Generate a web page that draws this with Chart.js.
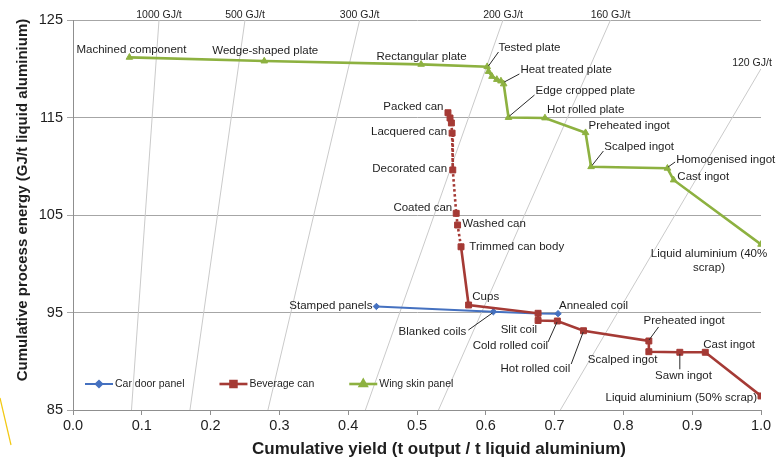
<!DOCTYPE html>
<html>
<head>
<meta charset="utf-8">
<script src="https://cdn.jsdelivr.net/npm/chart.js@4.4.0/dist/chart.umd.min.js"></script>
<style>
  html, body { margin: 0; padding: 0; background: #fff; }
  canvas { display: block; }
</style>
</head>
<body>
<canvas id="chart" width="776" height="459"></canvas>
<script>
// ---- Data: cumulative yield (t output / t liquid aluminium) and cumulative process energy (GJ/t liquid aluminium) ----
const carDoorStages = ['Stamped panels', 'Blanked coils', '', 'Annealed coil'];
const carDoorYield  = [0.441, 0.611, 0.676, 0.705];
const carDoorEnergy = [95.62, 95.08, 94.90, 94.88];

const canStages = ['Packed can', '', '', 'Lacquered can', 'Decorated can', 'Coated can', 'Washed can',
  'Trimmed can body', 'Cups', '', 'Slit coil', 'Cold rolled coil', 'Hot rolled coil', 'Preheated ingot',
  'Scalped ingot', 'Sawn ingot', 'Cast ingot', 'Liquid aluminium (50% scrap)'];
const canYield  = [0.545, 0.548, 0.550, 0.551, 0.552, 0.557, 0.559, 0.564, 0.575, 0.676, 0.676, 0.704,
  0.742, 0.837, 0.837, 0.882, 0.919, 1.000];
const canEnergy = [115.49, 114.95, 114.44, 113.40, 109.62, 105.17, 103.97, 101.74, 95.77, 94.92, 94.18,
  94.13, 93.13, 92.08, 90.98, 90.92, 90.92, 86.44];

const wingStages = ['Machined component', 'Wedge-shaped plate', 'Rectangular plate', 'Tested plate', '', '', '', '',
  'Heat treated plate', 'Edge cropped plate', 'Hot rolled plate', 'Preheated ingot', 'Scalped ingot',
  'Homogenised ingot', 'Cast ingot', 'Liquid aluminium (40% scrap)'];
const wingYield  = [0.082, 0.278, 0.506, 0.602, 0.604, 0.609, 0.616, 0.622, 0.626, 0.633, 0.686, 0.745,
  0.753, 0.864, 0.873, 1.000];
const wingEnergy = [121.17, 120.79, 120.45, 120.21, 119.72, 119.21, 118.90, 118.74, 118.44, 115.00, 114.95,
  113.44, 109.95, 109.79, 108.59, 101.99];

// Lines of constant energy per tonne of product (GJ/t)
const isoEnergy = [1000, 500, 300, 200, 160, 120];

// Axis ticks and titles
const yieldTicks  = [0, 0.1, 0.2, 0.3, 0.4, 0.5, 0.6, 0.7, 0.8, 0.9, 1.0];
const energyTicks = [85, 95, 105, 115, 125];
const xTitle = 'Cumulative yield (t output / t liquid aluminium)';
const yTitle = 'Cumulative process energy (GJ/t liquid aluminium)';

// ---- Styling ----
const FONT = "'Liberation Sans', Arial, Helvetica, sans-serif";
const TEXT = '#1e1e1e';
const BLUE = '#4571c0', RED = '#a53a35', GREEN = '#8db140';

const series = {
  car:  { label: 'Car door panel',  names: carDoorStages, xs: carDoorYield, ys: carDoorEnergy, color: BLUE,  style: 'rectRot',  r: 3.2, w: 2,   order: 3 },
  can:  { label: 'Beverage can',    names: canStages,     xs: canYield,     ys: canEnergy,     color: RED,   style: 'rect',     r: 4.2, w: 2.6, order: 2 },
  wing: { label: 'Wing skin panel', names: wingStages,    xs: wingYield,    ys: wingEnergy,    color: GREEN, style: 'triangle', r: 3.8, w: 2.6, order: 1 }
};

// Label placement: text offset from the point (px), alignment, optional leader line [x1,y1,x2,y2] relative to the point
const labelLayout = [
  { s: 'wing', i: 0,  dx: 2,     dy: -8,    align: 'center' },
  { s: 'wing', i: 1,  dx: 1,     dy: -10,   align: 'center' },
  { s: 'wing', i: 2,  dx: 0.5,   dy: -7.6,  align: 'center' },
  { s: 'wing', i: 3,  dx: 11.3,  dy: -19,   align: 'left', leader: [11.3, -14.7, 1.3, -0.7] },
  { s: 'wing', i: 8,  dx: 16.7,  dy: -14,   align: 'left', leader: [15.7, -10, 0.7, -2] },
  { s: 'wing', i: 9,  dx: 27,    dy: -26.8, align: 'left', leader: [26, -22.5, 1, -1.5] },
  { s: 'wing', i: 10, dx: 2,     dy: -8,    align: 'left' },
  { s: 'wing', i: 11, dx: 3,     dy: -6.7,  align: 'left' },
  { s: 'wing', i: 12, dx: 13.3,  dy: -20,   align: 'left', leader: [12.3, -15.7, 1.3, -1.7] },
  { s: 'wing', i: 13, dx: 8.7,   dy: -8.3,  align: 'left', leader: [7.7, -6.3, 0.7, -1.3] },
  { s: 'wing', i: 14, dx: 3.7,   dy: -3,    align: 'left' },
  { s: 'wing', i: 15, dx: -52,   dy: 9.7,   align: 'center', lines: ['Liquid aluminium (40%', 'scrap)'] },

  { s: 'can', i: 0,  dx: -4.5,  dy: -5.4,  align: 'right' },
  { s: 'can', i: 3,  dx: -5,    dy: -1,    align: 'right' },
  { s: 'can', i: 4,  dx: -5.7,  dy: -0.7,  align: 'right' },
  { s: 'can', i: 5,  dx: -4,    dy: -5.6,  align: 'right' },
  { s: 'can', i: 6,  dx: 4.7,   dy: -1.7,  align: 'left' },
  { s: 'can', i: 7,  dx: 8.3,   dy: 0,     align: 'left' },
  { s: 'can', i: 8,  dx: 3.7,   dy: -8.3,  align: 'left' },
  { s: 'can', i: 10, dx: -1,    dy: 9.5,   align: 'right' },
  { s: 'can', i: 11, dx: -9.3,  dy: 25,    align: 'right', leader: [-9.3, 21, -0.3, 1] },
  { s: 'can', i: 12, dx: -13.3, dy: 37.6,  align: 'right', leader: [-12.3, 33.3, -0.3, 1.3] },
  { s: 'can', i: 13, dx: -5.3,  dy: -20.3, align: 'left',  leader: [9.7, -14, 0.2, -1] },
  { s: 'can', i: 14, dx: 8.7,   dy: 8.3,   align: 'right' },
  { s: 'can', i: 15, dx: 3.7,   dy: 23.4,  align: 'center', leader: [0, 17, 0, 1.7] },
  { s: 'can', i: 16, dx: -2,    dy: -7.3,  align: 'left' },
  { s: 'can', i: 17, dx: -4,    dy: 2.3,   align: 'right' },

  { s: 'car', i: 0, dx: -4,  dy: -0.5, align: 'right' },
  { s: 'car', i: 1, dx: -27, dy: 20,   align: 'right', leader: [-25, 18.3, -1, 1.3] },
  { s: 'car', i: 3, dx: 1,   dy: -7.5, align: 'left' }
];

// Placement of the GJ/t captions relative to the upper end of each iso-energy line
const isoLabelShift = { 120: [-9, -6] };

// ---- Datasets ----
const isoSets = isoEnergy.map(c => ({
  label: c + ' GJ/t',
  data: [{ x: 85 / c, y: 85 }, { x: Math.min(1, 125 / c), y: Math.min(125, c) }],
  showLine: true, borderColor: '#cacaca', borderWidth: 1, pointRadius: 0, order: 10, iso: c
}));

const seriesSets = Object.keys(series).map(key => {
  const s = series[key];
  const set = {
    label: s.label, key,
    data: s.xs.map((x, i) => ({ x, y: s.ys[i] })),
    showLine: true,
    borderColor: s.color, backgroundColor: s.color,
    borderWidth: s.w, pointStyle: s.style, pointRadius: s.r,
    pointBorderColor: s.color, pointBackgroundColor: s.color, pointBorderWidth: 1,
    order: s.order
  };
  if (key === 'can') {
    // process steps on the finished can are drawn dotted
    set.segment = { borderDash: ctx => (ctx.p0DataIndex >= 2 && ctx.p1DataIndex <= 7) ? [2.5, 2.5] : undefined };
  }
  return set;
});

// ---- Plugins ----
const annotations = {
  id: 'annotations',
  afterDatasetsDraw(chart) {
    const { ctx, scales: { x: xs, y: ys } } = chart;
    ctx.save();
    ctx.fillStyle = TEXT;
    ctx.textBaseline = 'middle';

    // GJ/t captions
    ctx.font = '10.5px ' + FONT;
    ctx.textAlign = 'center';
    chart.data.datasets.forEach(ds => {
      if (!ds.iso) return;
      const top = ds.data[1];
      const sh = isoLabelShift[ds.iso] || [0, -4.5];
      ctx.fillText(ds.iso + ' GJ/t', xs.getPixelForValue(top.x) + sh[0], ys.getPixelForValue(top.y) + sh[1]);
    });

    // stage labels and leader lines
    ctx.font = '11.5px ' + FONT;
    labelLayout.forEach(l => {
      const s = series[l.s];
      const px = xs.getPixelForValue(s.xs[l.i]);
      const py = ys.getPixelForValue(s.ys[l.i]);
      if (l.leader) {
        ctx.beginPath();
        ctx.strokeStyle = '#2a2a2a';
        ctx.lineWidth = 1;
        ctx.moveTo(px + l.leader[0], py + l.leader[1]);
        ctx.lineTo(px + l.leader[2], py + l.leader[3]);
        ctx.stroke();
      }
      ctx.textAlign = l.align;
      const lines = l.lines || [s.names[l.i]];
      lines.forEach((t, k) => ctx.fillText(t, px + l.dx, py + l.dy + k * 14));
    });
    ctx.restore();
  },
  afterDraw(chart) {
    const { ctx, chartArea } = chart;
    ctx.save();
    ctx.textBaseline = 'middle';
    ctx.textAlign = 'center';
    ctx.fillStyle = TEXT;

    // axis titles
    ctx.font = 'bold 17px ' + FONT;
    ctx.fillText(xTitle, chartArea.left + 366, chartArea.bottom + 39);
    ctx.save();
    ctx.translate(22.5, chartArea.top + 180);
    ctx.rotate(-Math.PI / 2);
    ctx.font = 'bold 15px ' + FONT;
    ctx.fillText(yTitle, 0, 0);
    ctx.restore();

    // legend inside the plot area
    ctx.font = '10.5px ' + FONT;
    ctx.textAlign = 'left';
    let x = chartArea.left + 12;
    const y = chartArea.bottom - 26;
    ['car', 'can', 'wing'].forEach(key => {
      const s = series[key];
      ctx.strokeStyle = s.color;
      ctx.lineWidth = s.w;
      ctx.beginPath();
      ctx.moveTo(x, y);
      ctx.lineTo(x + 28, y);
      ctx.stroke();
      ctx.fillStyle = s.color;
      Chart.helpers.drawPoint(ctx, { pointStyle: s.style, radius: s.r, borderWidth: 1 }, x + 14, y);
      ctx.fillStyle = TEXT;
      ctx.fillText(s.label, x + 30, y + 0.5);
      x += 30 + ctx.measureText(s.label).width + 35;
    });

    // small accent stroke at the lower left margin
    ctx.strokeStyle = '#f2c811';
    ctx.lineWidth = 1.2;
    ctx.beginPath();
    ctx.moveTo(0, 398);
    ctx.lineTo(11, 445);
    ctx.stroke();
    ctx.restore();
  }
};

// ---- Chart ----
new Chart(document.getElementById('chart'), {
  type: 'scatter',
  data: { datasets: [...seriesSets, ...isoSets] },
  plugins: [annotations],
  options: {
    responsive: false,
    animation: false,
    devicePixelRatio: 1,
    layout: { padding: { top: 20, right: 15, left: 0, bottom: 0 } },
    plugins: { legend: { display: false }, tooltip: { enabled: false } },
    scales: {
      x: {
        type: 'linear', min: 0, max: 1,
        afterBuildTicks: sc => { sc.ticks = yieldTicks.map(v => ({ value: v })); },
        afterFit: sc => { sc.height = 49; },
        ticks: { font: { family: FONT, size: 14.5 }, color: TEXT, padding: 2, maxRotation: 0,
                 callback: v => Number(v).toFixed(1) },
        grid: { drawOnChartArea: false, drawTicks: true, tickLength: 5, color: '#8f8f8f' },
        border: { display: true, color: '#8f8f8f', width: 1 },
        title: { display: false }
      },
      y: {
        type: 'linear', min: 85, max: 125,
        afterBuildTicks: sc => { sc.ticks = energyTicks.map(v => ({ value: v })); },
        afterFit: sc => { sc.width = 73; },
        ticks: { font: { family: FONT, size: 14.5 }, color: TEXT, padding: 4 },
        grid: { color: '#a6a6a6', lineWidth: 1, drawTicks: true, tickLength: 6 },
        border: { display: true, color: '#8f8f8f', width: 1 },
        title: { display: false }
      }
    }
  }
});
</script>
</body>
</html>
